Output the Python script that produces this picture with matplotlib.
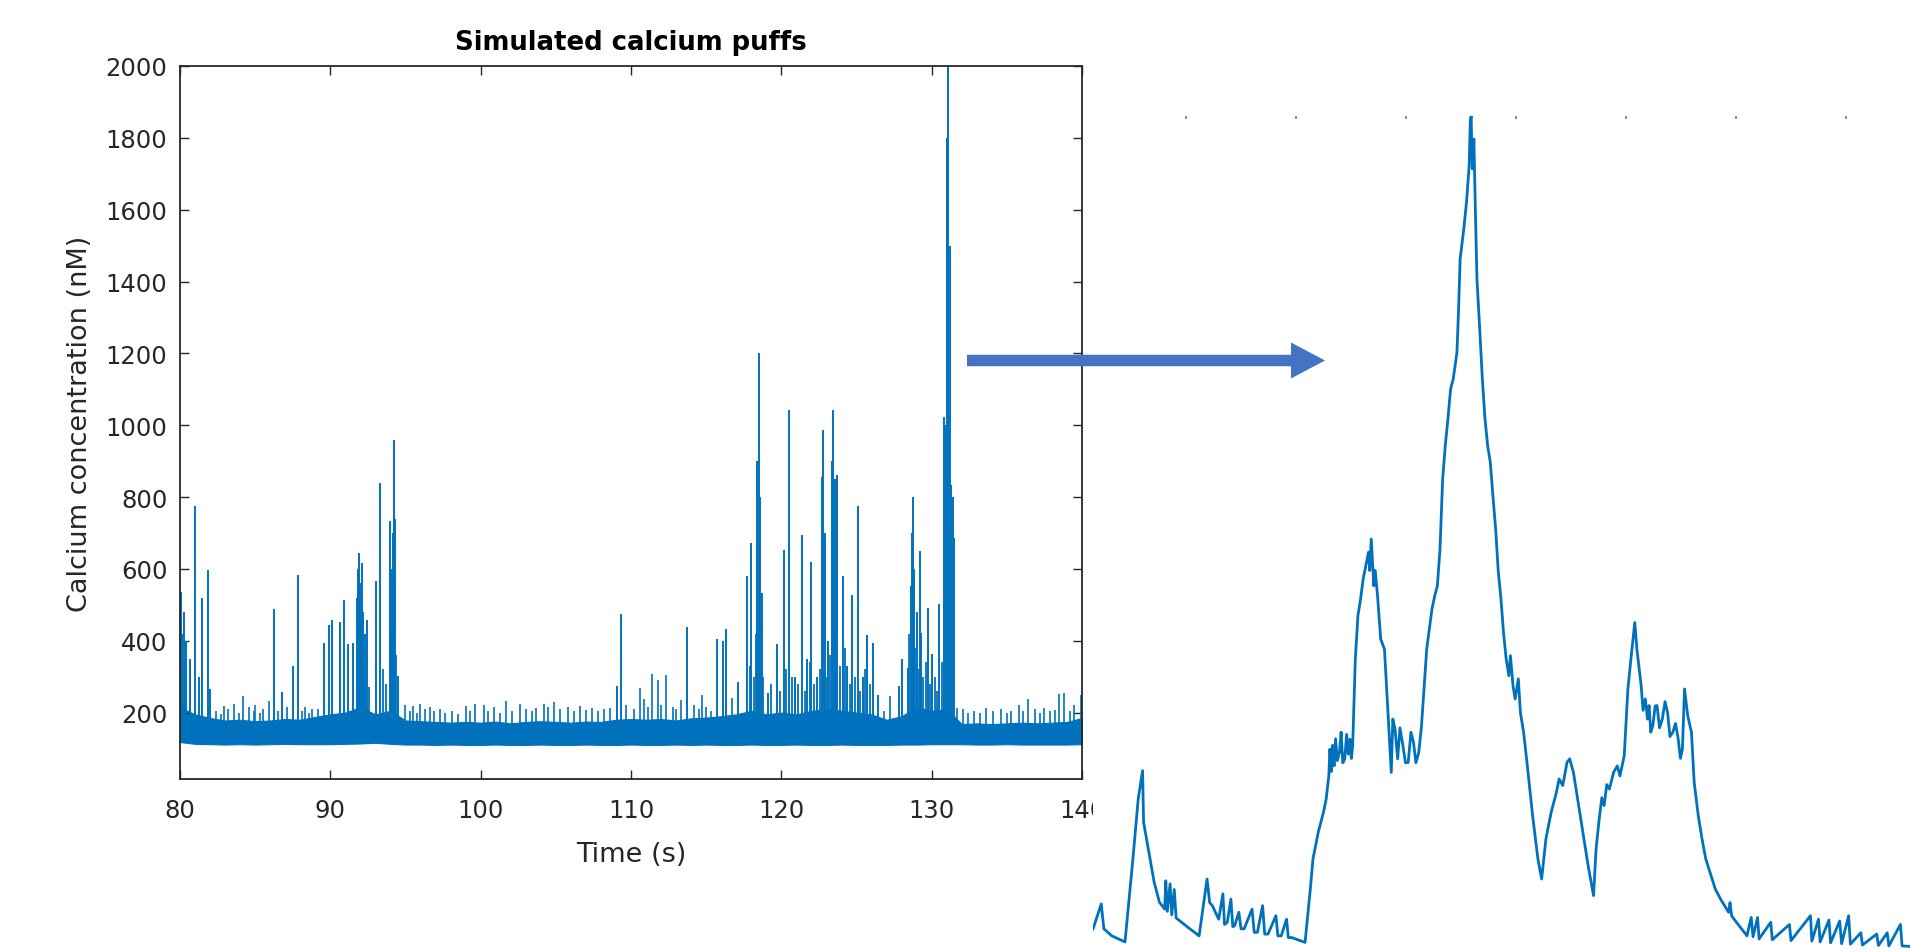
import numpy as np
import matplotlib
matplotlib.use("Agg")
import matplotlib.pyplot as plt
from matplotlib.patches import FancyArrow

# ---------------- values ----------------
# dense baseline band of the 80-140 s trace, one sample per second
band_t = list(range(80, 141))
band_hi = [215, 195, 185, 178, 180, 176, 178, 182, 180, 188,
           195, 200, 215, 195, 205, 178, 176, 174, 172, 174,
           172, 175, 170, 174, 176, 174, 172, 175, 174, 180,
           182, 180, 182, 178, 184, 186, 190, 195, 205, 195,
           200, 195, 205, 210, 205, 200, 195, 180, 190, 215,
           205, 210, 168, 170, 168, 170, 172, 170, 172, 174, 185]
band_lo = [118, 113, 112, 111, 112, 111, 112, 113, 112, 112,
           112, 113, 114, 116, 113, 111, 111, 110, 111, 110,
           110, 111, 110, 110, 111, 110, 110, 111, 110, 110,
           111, 110, 110, 111, 110, 111, 110, 110, 111, 110,
           110, 111, 110, 110, 111, 110, 110, 110, 111, 111,
           112, 112, 112, 111, 111, 112, 111, 111, 111, 111, 112]

# calcium puffs (large spikes)
puff_t = [80.05, 80.15, 80.25, 80.4, 80.7, 81.0, 81.3, 81.5, 81.85, 82.0,
          86.25, 86.8, 87.5, 87.85, 89.55, 89.9, 90.1, 90.66, 90.88, 91.2,
          91.5, 91.76, 91.85, 91.9, 92.0, 92.1, 92.2, 92.3, 92.47, 93.04,
          93.3, 93.96, 94.05, 94.15, 94.23, 94.3, 94.5,
          109.1, 109.31, 113.7, 115.7, 116.1, 116.3, 117.1, 117.7, 118.0,
          118.4, 118.5, 118.6, 118.7, 119.1, 119.7, 120.2, 120.5, 120.9,
          121.4, 121.7, 122.0, 122.4, 122.7, 122.8, 122.9, 123.1, 123.35,
          123.45, 123.55, 123.7, 124.1, 124.4, 124.7, 125.1, 125.4, 125.7,
          126.1, 126.4, 127.8, 128.0, 128.4, 128.6, 128.7, 128.75, 128.85,
          129.0, 129.2, 129.3, 129.75, 130.05, 130.5, 130.85, 130.95,
          131.05, 131.1, 131.2, 131.3, 131.4, 131.5]
puff_ca = [537, 420, 480, 399, 350, 775, 300, 519, 598, 265,
           489, 257, 330, 584, 394, 445, 459, 452, 514, 390,
           394, 519, 600, 644, 560, 616, 480, 420, 459, 565,
           840, 732, 600, 700, 960, 740, 302,
           274, 475, 439, 405, 399, 433, 285, 579, 672,
           900, 1200, 800, 533, 255, 390, 653, 1043, 300,
           695, 350, 618, 300, 857, 986, 700, 400, 900,
           1043, 850, 861, 579, 330, 528, 775, 300, 417,
           394, 250, 274, 348, 325, 551, 700, 799, 600,
           480, 651, 422, 491, 362, 503, 1023, 1000,
           1800, 2000, 1500, 834, 800, 686]

# smaller events in the busy stretches
burst_t = [91.95, 92.05, 92.15, 92.25, 92.6, 93.5, 93.7, 94.1, 94.35,
           117.9, 118.2, 118.3, 118.8, 119.3, 119.9, 120.3, 120.7, 121.1,
           121.6, 121.9, 122.2, 122.55, 123.0, 123.25, 123.6, 123.9, 124.25,
           124.55, 124.9, 125.25, 125.55, 125.9, 128.5, 128.9, 129.1, 129.45,
           129.6, 129.9, 130.2, 130.35, 130.7]
burst_ca = [380, 450, 330, 300, 270, 320, 280, 420, 360,
            330, 300, 420, 300, 280, 260, 320, 300, 280,
            260, 340, 280, 320, 300, 360, 420, 330, 380,
            280, 300, 260, 320, 280, 420, 380, 320, 300,
            340, 280, 300, 260, 340]

# small blips on top of the band
blip_t = [82.4, 82.7, 82.95, 83.2, 83.6, 83.9, 84.2, 84.6, 84.9, 85.0,
          85.3, 85.5, 85.9, 86.5, 87.1, 88.1, 88.3, 88.6, 88.8, 89.2,
          95.0, 95.3, 95.5, 95.8, 96.0, 96.3, 96.6, 96.9, 97.3, 97.6,
          98.1, 98.5, 99.0, 99.3, 99.6, 100.2, 100.5, 100.9, 101.3, 101.7,
          102.1, 102.6, 103.0, 103.4, 103.7, 104.2, 104.5, 104.9, 105.3, 105.8,
          106.2, 106.6, 107.0, 107.4, 107.8, 108.2, 108.6, 109.7, 110.2, 110.6,
          110.9, 111.1, 111.4, 111.8, 112.0, 112.3, 112.8, 113.0, 113.3, 114.2,
          114.5, 114.7, 115.0, 115.3, 116.7, 126.8, 127.2,
          131.7, 132.1, 132.4, 132.8, 133.2, 133.6, 134.1, 134.6, 135.0, 135.3,
          135.8, 136.1, 136.4, 136.9, 137.2, 137.5, 137.9, 138.2, 138.5, 138.8,
          139.2, 139.5, 139.9]
blip_ca = [205, 195, 218, 210, 225, 200, 246, 215, 205, 220,
           200, 210, 232, 205, 215, 205, 215, 200, 209, 210,
           220, 205, 218, 200, 225, 210, 215, 205, 210, 200,
           205, 195, 218, 205, 225, 220, 205, 215, 200, 232,
           205, 225, 210, 205, 212, 225, 215, 230, 210, 215,
           205, 218, 208, 212, 205, 210, 212, 220, 210, 269,
           237, 215, 306, 290, 220, 304, 215, 210, 235, 220,
           210, 248, 215, 204, 240, 205, 246,
           214, 209, 200, 205, 198, 212, 205, 209, 200, 205,
           220, 205, 237, 210, 200, 212, 205, 208, 251, 255,
           205, 220, 250]

# zoomed view of the largest puff (time in ms, calcium in nM)
zoom_t = [15.5, 22.9, 25.3, 32.5, 44.5, 51.7, 56.5, 60.5, 61.4, 66.2,
          71.0, 75.8, 80.6, 81.6, 83.0, 85.5, 87.0, 89.3, 91.0, 99.9,
          111.9, 119.1, 121.5, 123.9, 129.7, 133.5, 135.0, 137.5, 140.8, 142.5,
          144.2, 148.0, 150.0, 152.8, 160.0, 162.0, 164.9, 169.6, 171.5, 174.5,
          181.7, 183.5, 186.5, 191.4, 193.0, 196.2, 208.2, 213.0, 215.4, 220.2,
          225.0, 227.4, 229.8, 230.8, 232.0, 233.2, 234.6, 236.0, 237.5, 239.5,
          241.0, 242.5, 244.3, 246.0, 247.5, 249.1, 250.3, 251.5,
          253.9, 256.3, 258.7, 261.0, 263.5, 265.9, 267.0, 268.4, 270.7, 272.0,
          274.1, 277.0, 280.4, 283.7, 286.6, 288.0, 290.0, 292.4, 294.5, 297.2,
          299.5, 302.0, 304.5, 306.8, 309.0, 311.6, 314.1, 316.5,
          318.8, 323.6, 326.1, 328.5, 330.9, 333.3, 335.7, 338.1, 340.5, 342.9,
          346.3, 347.7, 349.2, 352.5, 355.0, 357.4, 358.4, 359.2, 360.3, 361.7,
          363.1, 364.5, 367.0, 369.4, 371.8, 374.2, 376.6, 379.0, 381.5, 383.8,
          386.3, 388.6, 391.1, 393.5, 394.9, 397.3, 399.2, 402.1, 404.0, 406.9,
          410.3, 415.1, 419.9, 423.3, 427.2, 432.0, 436.7, 439.2, 442.5, 446.4,
          448.8, 452.2, 456.0, 460.8, 465.6, 470.5, 472.8, 475.3, 478.0, 480.1,
          482.5, 484.9, 488.7, 492.1, 494.5, 498.4, 501.7, 505.1, 508.0, 509.9,
          513.8, 515.5, 517.6, 519.5, 521.0, 522.5, 524.4, 526.5, 528.2, 530.5,
          533.0, 535.5, 537.8, 540.0, 542.6, 545.0, 547.5, 549.5, 551.3, 553.2,
          556.1, 559.5, 562.0, 565.7, 569.1, 572.5, 576.4, 581.2, 586.0, 593.2,
          594.6, 596.0, 600.4, 610.0, 613.8, 615.5, 619.6, 621.0, 631.6, 633.0,
          648.6, 650.0, 667.7, 669.0, 675.0, 676.5, 684.5, 686.0, 694.3, 696.0,
          702.4, 704.0, 713.5, 715.0, 727.9, 729.5, 737.5, 739.0, 749.5, 751.0,
          757.0]
zoom_ca = [140, 197, 140, 124, 110, 300, 437, 502, 384, 315,
           247, 201, 185, 250, 180, 243, 172, 230, 165, 147,
           124, 254, 200, 193, 162, 220, 150, 155, 208, 145,
           147, 178, 140, 140, 185, 132, 132, 193, 128, 128,
           170, 124, 124, 162, 120, 120, 109, 231, 300, 361,
           407, 437, 490, 551, 500, 560, 513, 575, 525, 544,
           590, 520, 529, 585, 540, 574, 530, 559,
           757, 857, 895, 940, 971, 1002, 960, 1032, 925, 960,
           902, 803, 780, 628, 498, 620, 597, 529, 600, 559,
           520, 521, 590, 567, 520, 544, 605, 696,
           780, 872, 902, 925, 1009, 1169, 1246, 1307, 1375, 1398,
           1459, 1551, 1673, 1741, 1803, 1886, 1986, 2000, 1879, 1947,
           1780, 1627, 1513, 1398, 1307, 1246, 1208, 1131, 1055, 960,
           895, 819, 757, 719, 765, 696, 666, 712, 635, 590,
           513, 399, 300, 254, 346, 407, 452, 483, 468, 521,
           529, 498, 437, 361, 284, 216, 323, 384, 440, 422,
           470, 460, 498, 513, 490, 536, 689, 773, 841, 780,
           696, 640, 666, 620, 651, 590, 605, 650, 651, 600,
           620, 660, 635, 580, 590, 610, 574, 530, 552, 689,
           628, 590, 475, 399, 346, 300, 269, 231, 208, 178,
           200, 170, 155, 124, 166, 122, 166, 117, 155, 115,
           150, 113, 170, 112, 162, 110, 160, 108, 158, 106,
           170, 105, 131, 103, 128, 102, 131, 101, 150, 101,
           100]

xticks = [80, 90, 100, 110, 120, 130, 140]
yticks = [200, 400, 600, 800, 1000, 1200, 1400, 1600, 1800, 2000]
zoom_ticks = [100, 200, 300, 400, 500, 600, 700]

# ---------------- style ----------------
line_blue = '#0072BD'
arrow_blue = '#4472C4'
ink = '#262626'
plt.rcParams['font.family'] = ['DejaVu Sans']

fig = plt.figure(figsize=(19.1, 9.53), dpi=100)

# main trace
ax = fig.add_axes([0.0942, 0.1815, 0.4723, 0.7482])
ax.fill_between(band_t, band_lo, band_hi, color=line_blue, lw=0.8)
base = np.interp(puff_t, band_t, band_lo)
ax.vlines(puff_t, base, puff_ca, color=line_blue, lw=1.4)
base = np.interp(burst_t, band_t, band_lo)
ax.vlines(burst_t, base, burst_ca, color=line_blue, lw=1.3)
base = np.interp(blip_t, band_t, band_lo)
ax.vlines(blip_t, base, blip_ca, color=line_blue, lw=1.2)

ax.set_xlim(80, 140)
ax.set_ylim(15, 2000)
ax.set_xticks(xticks)
ax.set_yticks(yticks)
ax.tick_params(direction='in', top=True, right=True, length=6.5, width=1.0,
               colors=ink, labelsize=17.5)
ax.tick_params(axis='x', pad=14)
ax.tick_params(axis='y', pad=9)
for s in ax.spines.values():
    s.set_color(ink)
    s.set_linewidth(1.3)
ax.set_xlabel('Time (s)', fontsize=19.5, color=ink, labelpad=13)
ax.set_ylabel('Calcium concentration (nM)', fontsize=19.5, color=ink, labelpad=9)
ax.set_title('Simulated calcium puffs', fontsize=18.7, fontweight='bold', pad=12)

# zoomed puff, pasted on the right (covers part of the last tick label)
az = fig.add_axes([0.5723, 0.0, 0.4277, 0.8772])
az.patch.set_facecolor('white')
az.plot(zoom_t, zoom_ca, color=line_blue, lw=2.0)
az.set_xlim(15.5, 758.2)
az.set_ylim(87, 2000)
az.set_xticks(zoom_ticks)
az.set_yticks([])
az.tick_params(axis='x', direction='in', top=True, bottom=False,
               labelbottom=False, length=2, width=1.5, colors='#8c8c8c')
for s in az.spines.values():
    s.set_visible(False)

# block arrow between the two panels
arr = FancyArrow(9.67, 5.915, 3.58, 0.0, width=0.115, head_width=0.36,
                 head_length=0.34, length_includes_head=True,
                 color=arrow_blue, lw=0, transform=fig.dpi_scale_trans)
fig.patches.append(arr)

fig.savefig('out.png', dpi=100, facecolor='white')
